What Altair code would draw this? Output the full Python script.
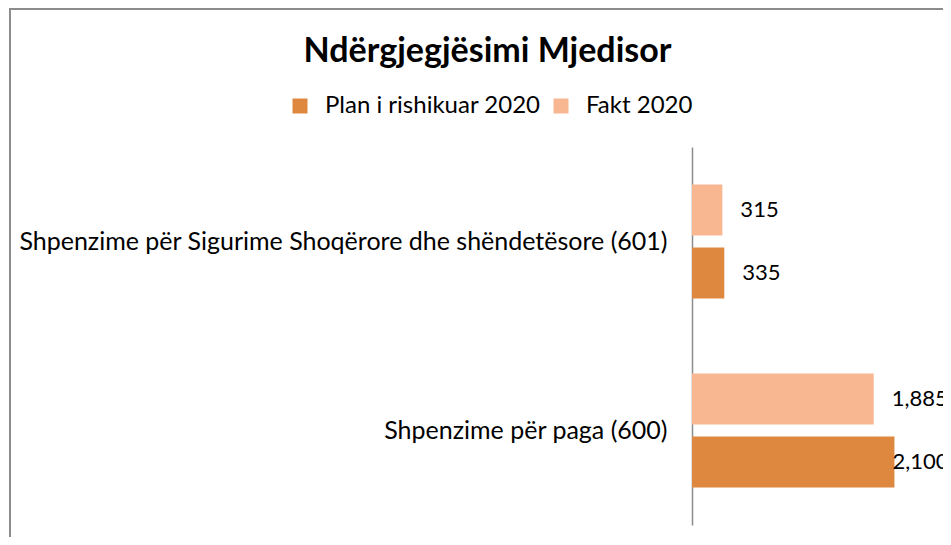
import altair as alt
import pandas as pd

categories = [
    "Shpenzime për Sigurime Shoqërore dhe shëndetësore (601)",
    "Shpenzime për paga (600)",
]
series = ["Plan i rishikuar 2020", "Fakt 2020"]
plan_values = [335, 2100]
fakt_values = [315, 1885]
colors = ["#DE883F", "#F9B791"]

rows = []
for c, p, f in zip(categories, plan_values, fakt_values):
    rows.append({"category": c, "series": series[0], "value": p})
    rows.append({"category": c, "series": series[1], "value": f})
df = pd.DataFrame(rows)

FONT = "Lato"
GRAY = "#8c8c8c"

y = alt.Y(
    "category:N",
    sort=categories,
    scale=alt.Scale(paddingInner=0, paddingOuter=0),
    axis=alt.Axis(
        title=None, ticks=False, domainColor=GRAY, domainWidth=1.5,
        labelFontSize=25, labelFont=FONT, labelColor="#000000",
        labelPadding=25, labelLimit=900,
    ),
)
yoff = alt.YOffset(
    "series:N",
    sort=[series[1], series[0]],
    scale=alt.Scale(paddingInner=0.19, paddingOuter=0.595),
)
x = alt.X("value:Q", scale=alt.Scale(domain=[0, 2500]), axis=None)
color = alt.Color(
    "series:N",
    scale=alt.Scale(domain=series, range=colors),
    legend=alt.Legend(
        title=None, orient="none", legendX=-404, legendY=-53,
        direction="horizontal", symbolType="square", symbolSize=225,
        symbolStrokeWidth=0, labelFontSize=24, labelFont=FONT,
        labelColor="#000000", labelOffset=13, columnPadding=8,
        labelLimit=500,
    ),
)

base = alt.Chart(df)
bars = base.mark_bar().encode(x=x, y=y, yOffset=yoff, color=color)

labels = base.transform_filter("datum.value < 2000").mark_text(
    align="left", baseline="middle", dx=18, fontSize=22, font=FONT, color="#000000"
).encode(x=x, y=y, yOffset=yoff, text=alt.Text("value:Q", format=","))

labels_edge = base.transform_filter("datum.value >= 2000").mark_text(
    align="left", baseline="middle", dx=-2, fontSize=22, font=FONT, color="#000000"
).encode(x=x, y=y, yOffset=yoff, text=alt.Text("value:Q", format=","))

one = alt.Chart(pd.DataFrame({"k": [0]}))
left_border = one.mark_rule(color=GRAY, strokeWidth=2).encode(
    x=alt.value(-682), y=alt.value(-138), y2=alt.value(390)
)
top_border = one.mark_rule(color=GRAY, strokeWidth=2).encode(
    x=alt.value(-683), x2=alt.value(300), y=alt.value(-138)
)

chart = alt.layer(bars, labels, labels_edge, left_border, top_border).properties(
    width=241,
    height=378,
    autosize=alt.AutoSizeParams(type="none"),
    padding={"left": 684, "top": 139, "right": 10, "bottom": 12},
    background="white",
    title=alt.TitleParams(
        "Ndërgjegjësimi Mjedisor", fontSize=34, font=FONT, fontWeight="bold",
        color="#000000", anchor="middle", dx=-325, dy=88, baseline="alphabetic",
        offset=0,
    ),
).configure_view(stroke=None)

chart.save("out.html", embed_options={"renderer": "svg", "actions": False})
